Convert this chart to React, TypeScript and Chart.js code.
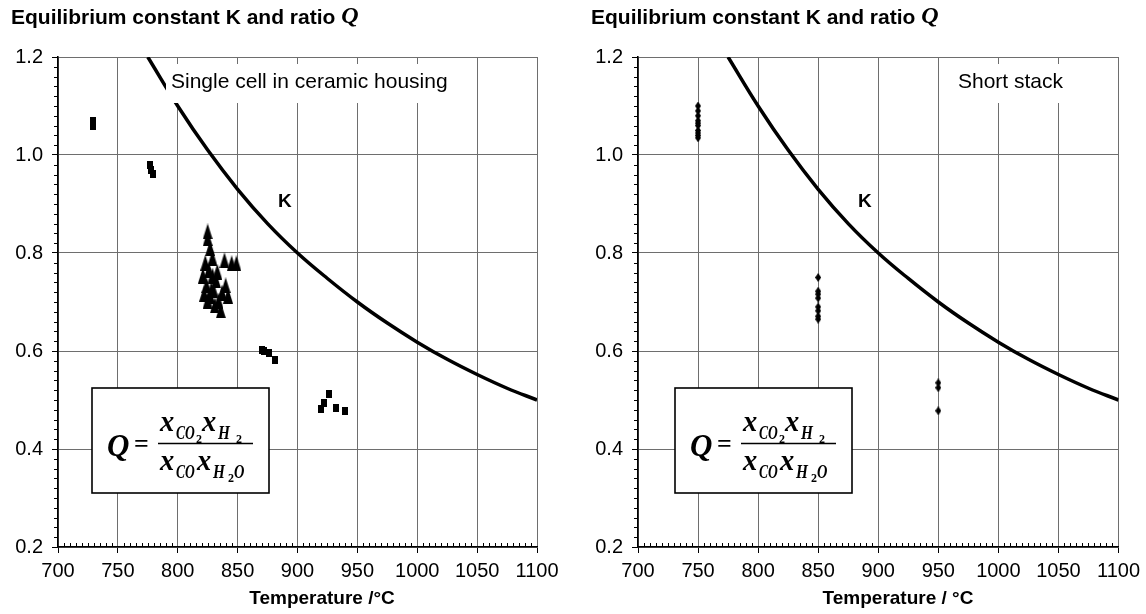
import React, { useEffect, useRef } from "react";
import { Chart, registerables } from "chart.js";

Chart.register(...registerables);

// ---------- data ----------
const xTickValues = [700, 750, 800, 850, 900, 950, 1000, 1050, 1100];
const yTickValues = [0.2, 0.4, 0.6, 0.8, 1.0, 1.2];

// Equilibrium constant K
const kTemps = [775, 800, 825, 850, 875, 900, 925, 950, 975, 1000, 1025, 1050, 1075, 1100];
const kValues = [1.2, 1.1, 1.01, 0.93, 0.86, 0.8, 0.748, 0.7, 0.657, 0.618, 0.583, 0.552, 0.524, 0.5];

// Left panel: single cell in ceramic housing
const squareTemps = [729, 729, 777, 778, 779, 870, 872, 876, 881, 920, 922, 926, 932, 940];
const squareQ = [1.07, 1.06, 0.98, 0.97, 0.962, 0.603, 0.6, 0.595, 0.582, 0.482, 0.494, 0.513, 0.484, 0.478];

const triangleTemps = [825, 825, 827, 829, 823, 839, 845, 849, 821, 824, 822, 827, 830, 834, 831, 837, 842, 836, 825, 829, 832, 840, 833, 826, 828];
const triangleQ = [0.844, 0.83, 0.81, 0.79, 0.78, 0.785, 0.779, 0.779, 0.754, 0.734, 0.717, 0.713, 0.724, 0.703, 0.693, 0.719, 0.713, 0.683, 0.703, 0.754, 0.744, 0.734, 0.762, 0.765, 0.725];

// Right panel: short stack
const stackTemps = [750, 750, 750, 750, 750, 750, 750, 750, 750, 750, 850, 850, 850, 850, 850, 850, 850, 850, 950, 950, 950];
const stackQ = [1.1, 1.09, 1.08, 1.07, 1.065, 1.06, 1.05, 1.045, 1.04, 1.035, 0.75, 0.722, 0.716, 0.708, 0.69, 0.682, 0.671, 0.665, 0.535, 0.525, 0.478];

const chartTitle = "Equilibrium constant K and ratio ";
const leftNote = "Single cell in ceramic housing";
const rightNote = "Short stack";
const leftAxisTitle = "Temperature /°C";
const rightAxisTitle = "Temperature / °C";

// ---------- marker images ----------
function makeMarker(w: number, h: number, shape: "rect" | "tri" | "diamond") {
  const c = document.createElement("canvas");
  c.width = w;
  c.height = h;
  const g = c.getContext("2d")!;
  g.fillStyle = "#000";
  g.beginPath();
  if (shape === "rect") {
    g.rect(0, 0, w, h);
  } else if (shape === "tri") {
    g.moveTo(w / 2, 0);
    g.lineTo(w, h);
    g.lineTo(0, h);
    g.closePath();
  } else {
    g.moveTo(w / 2, 0);
    g.lineTo(w, h / 2);
    g.lineTo(w / 2, h);
    g.lineTo(0, h / 2);
    g.closePath();
  }
  g.fill();
  return c;
}

const SANS = "'Liberation Sans', Arial, sans-serif";
const SERIF = "'Liberation Serif', 'Times New Roman', serif";

const PANEL_W = 573;
const PANEL_H = 614;

type Spec = {
  offsetX: number;
  plotLeft: number;
  plotRight: number;
  plotTop: number;
  plotBottom: number;
  note: string;
  noteBox: [number, number, number, number];
  noteTextX: number;
  noteTextY: number;
  kLabel: [number, number];
  formulaX: number;
  formulaY: number;
  axisTitle: string;
  axisTitleX: number;
  titleX: number;
  kind: "left" | "right";
};

function drawFormula(ctx: CanvasRenderingContext2D, bx: number, by: number) {
  const w = 177;
  const h = 105;
  ctx.save();
  ctx.fillStyle = "#fff";
  ctx.fillRect(bx, by, w, h);
  ctx.strokeStyle = "#000";
  ctx.lineWidth = 1.6;
  ctx.strokeRect(bx, by, w, h);
  ctx.fillStyle = "#000";
  ctx.textBaseline = "alphabetic";
  ctx.textAlign = "left";
  const bi = (s: number) => `italic bold ${s}px ${SERIF}`;
  const b = (s: number) => `bold ${s}px ${SERIF}`;
  const t = (txt: string, x: number, y: number, font: string, sx = 1) => {
    ctx.save();
    ctx.font = font;
    ctx.translate(bx + x, by + y);
    ctx.scale(sx, 1);
    ctx.fillText(txt, 0, 0);
    ctx.restore();
  };
  t("Q", 15, 68, bi(31));
  t("=", 42, 64, b(26));
  // numerator
  t("x", 68, 43, bi(30), 0.95);
  t("CO", 84, 51, bi(18), 0.75);
  t("2", 104, 55, b(12));
  t("x", 110, 43, bi(30), 0.95);
  t("H", 126, 51, bi(18), 0.85);
  t("2", 144, 55, b(12));
  ctx.lineWidth = 1.5;
  ctx.beginPath();
  ctx.moveTo(bx + 66, by + 55.5);
  ctx.lineTo(bx + 161, by + 55.5);
  ctx.stroke();
  // denominator
  t("x", 68, 82, bi(30), 0.95);
  t("CO", 84, 90, bi(18), 0.75);
  t("x", 105, 82, bi(30), 0.95);
  t("H", 121, 90, bi(18), 0.85);
  t("2", 136, 94, b(12));
  t("O", 142, 90, bi(18), 0.8);
  ctx.restore();
}

function Panel({ spec }: { spec: Spec }) {
  const ref = useRef<HTMLCanvasElement>(null);
  useEffect(() => {
    const canvas = ref.current!;
    const rectImg = makeMarker(6, 8, "rect");
    const triImg = makeMarker(10, 16, "tri");
    const diaImg = makeMarker(6, 9, "diamond");

    const kData = kTemps.map((t, i) => ({ x: t, y: kValues[i] }));
    const datasets: any[] = [
      {
        label: "K",
        data: kData,
        showLine: true,
        borderColor: "#000",
        borderWidth: 3.5,
        pointRadius: 0,
        tension: 0.4,
        order: 5,
      },
    ];
    if (spec.kind === "left") {
      datasets.push({
        label: "Q squares",
        data: squareTemps.map((t, i) => ({ x: t, y: squareQ[i] })),
        pointStyle: rectImg,
        showLine: false,
      });
      datasets.push({
        label: "Q triangles",
        data: triangleTemps.map((t, i) => ({ x: t, y: triangleQ[i] })),
        pointStyle: triImg,
        showLine: false,
      });
    } else {
      datasets.push({
        label: "Q stack",
        data: stackTemps.map((t, i) => ({ x: t, y: stackQ[i] })),
        pointStyle: diaImg,
        showLine: false,
      });
    }

    const overlay = {
      id: "overlay",
      afterDatasetsDraw(chart: any) {
        const ctx: CanvasRenderingContext2D = chart.ctx;
        const xs = chart.scales.x;
        const ys = chart.scales.y;
        const area = chart.chartArea;
        ctx.save();
        // minor ticks
        ctx.strokeStyle = "#000";
        ctx.lineWidth = 1;
        for (let k = 0; k <= 50; k++) {
          if (k % 10 === 0) continue;
          const py = Math.round(ys.getPixelForValue(0.2 + 0.02 * k)) + 0.5;
          ctx.beginPath();
          ctx.moveTo(area.left - 4, py);
          ctx.lineTo(area.left, py);
          ctx.stroke();
        }
        for (let k = 0; k <= 80; k++) {
          if (k % 10 === 0) continue;
          const px = Math.round(xs.getPixelForValue(700 + 5 * k)) + 0.5;
          ctx.beginPath();
          ctx.moveTo(px, area.bottom);
          ctx.lineTo(px, area.bottom - 4);
          ctx.stroke();
        }
        // note box
        const [nx, ny, nw, nh] = spec.noteBox;
        ctx.fillStyle = "#fff";
        ctx.fillRect(nx, ny, nw, nh);
        ctx.fillStyle = "#000";
        ctx.font = `21px ${SANS}`;
        ctx.textAlign = "left";
        ctx.textBaseline = "middle";
        ctx.fillText(spec.note, spec.noteTextX, spec.noteTextY);
        // K label
        ctx.font = `bold 19px ${SANS}`;
        ctx.fillText("K", spec.kLabel[0], spec.kLabel[1]);
        // formula
        drawFormula(ctx, spec.formulaX, spec.formulaY);
        ctx.restore();
      },
      afterDraw(chart: any) {
        const ctx: CanvasRenderingContext2D = chart.ctx;
        ctx.save();
        ctx.fillStyle = "#000";
        ctx.textBaseline = "middle";
        ctx.textAlign = "left";
        ctx.font = `bold 21px ${SANS}`;
        ctx.fillText(chartTitle, spec.titleX, 18);
        const w = ctx.measureText(chartTitle).width;
        ctx.font = `italic bold 24px ${SERIF}`;
        ctx.fillText("Q", spec.titleX + w, 17);
        ctx.font = `bold 19px ${SANS}`;
        ctx.textAlign = "center";
        ctx.fillText(spec.axisTitle, spec.axisTitleX, 599);
        ctx.restore();
      },
    };

    const chart = new Chart(canvas, {
      type: "scatter",
      data: { datasets },
      options: {
        animation: false,
        responsive: false,
        maintainAspectRatio: false,
        layout: {
          padding: {
            left: 0,
            top: spec.plotTop,
            right: PANEL_W - spec.plotRight,
            bottom: 0,
          },
        },
        plugins: {
          legend: { display: false },
          tooltip: { enabled: false },
          title: { display: false },
        },
        elements: { point: { radius: 4 } },
        scales: {
          x: {
            type: "linear",
            min: 700,
            max: 1100,
            afterFit: (s: any) => {
              s.height = PANEL_H - spec.plotBottom;
            },
            afterBuildTicks: (s: any) => {
              s.ticks = xTickValues.map((v) => ({ value: v }));
            },
            ticks: {
              autoSkip: false,
              maxRotation: 0,
              color: "#000",
              font: { family: SANS, size: 20 },
              padding: 6,
              callback: (v: any) => String(v),
            },
            grid: {
              color: "#6e6e6e",
              lineWidth: 1,
              tickColor: "#000",
              tickLength: 6,
            },
            border: { color: "#000", width: 1.6 },
          },
          y: {
            type: "linear",
            min: 0.2,
            max: 1.2,
            afterFit: (s: any) => {
              s.width = spec.plotLeft;
            },
            afterBuildTicks: (s: any) => {
              s.ticks = yTickValues.map((v) => ({ value: v }));
            },
            ticks: {
              autoSkip: false,
              color: "#000",
              font: { family: SANS, size: 20 },
              padding: 9,
              callback: (v: any) => Number(v).toFixed(1),
            },
            grid: {
              color: "#6e6e6e",
              lineWidth: 1,
              tickColor: "#000",
              tickLength: 6,
            },
            border: { color: "#000", width: 1.6 },
          },
        },
      } as any,
      plugins: [overlay],
    });
    return () => chart.destroy();
  }, [spec]);

  return (
    <canvas
      ref={ref}
      width={PANEL_W}
      height={PANEL_H}
      style={{ position: "absolute", left: spec.offsetX, top: 0, width: PANEL_W, height: PANEL_H }}
    />
  );
}

const leftSpec: Spec = {
  offsetX: 0,
  plotLeft: 58,
  plotRight: 537,
  plotTop: 57,
  plotBottom: 547,
  note: leftNote,
  noteBox: [166, 64, 298, 39],
  noteTextX: 171,
  noteTextY: 82,
  kLabel: [278, 202],
  formulaX: 92,
  formulaY: 388,
  axisTitle: leftAxisTitle,
  axisTitleX: 322,
  titleX: 11,
  kind: "left",
};

const rightSpec: Spec = {
  offsetX: 573,
  plotLeft: 65,
  plotRight: 547,
  plotTop: 57,
  plotBottom: 547,
  note: rightNote,
  noteBox: [376, 64, 138, 39],
  noteTextX: 385,
  noteTextY: 82,
  kLabel: [285, 202],
  formulaX: 102,
  formulaY: 388,
  axisTitle: rightAxisTitle,
  axisTitleX: 325,
  titleX: 18,
  kind: "right",
};

export default function App() {
  return (
    <div
      style={{
        position: "fixed",
        left: 0,
        top: 0,
        width: 1146,
        height: 614,
        background: "#fff",
        overflow: "hidden",
      }}
    >
      <Panel spec={leftSpec} />
      <Panel spec={rightSpec} />
    </div>
  );
}
